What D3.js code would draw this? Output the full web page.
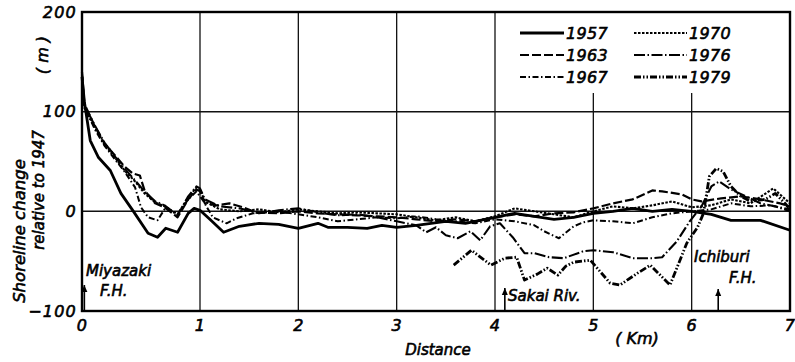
<!DOCTYPE html>
<html>
<head>
<meta charset="utf-8">
<script src="https://cdn.jsdelivr.net/npm/d3@7/dist/d3.min.js"></script>
<style>
body { margin: 0; background: #fff; }
text { font-family: "DejaVu Sans", sans-serif; font-style: oblique; fill: #000; stroke: #000; stroke-width: 0.6px; }
</style>
</head>
<body>
<div id="chart"></div>
<script>
// shoreline change relative to 1947, [distance km, change m]
var years = ["1957", "1963", "1967", "1970", "1976", "1979"];

var s1957 = [[0,135],[0.02,110],[0.07,71],[0.14,54],[0.24,41],[0.33,18],[0.43,1],[0.56,-22],[0.64,-26],[0.71,-17],
  [0.81,-21],[0.9,-2],[0.95,3],[1.0,1],[1.1,-8],[1.24,-21],[1.4,-15],[1.6,-12],[1.8,-13],[2.0,-17],[2.2,-12],
  [2.3,-16],[2.5,-16],[2.7,-17],[2.85,-14],[3.0,-16],[3.2,-14],[3.5,-10],[3.7,-12],[3.9,-8],[4.0,-6],[4.2,-2],
  [4.4,-5],[4.6,-8],[4.8,-6],[5.0,-2],[5.2,0],[5.4,3],[5.6,0],[5.8,2],[6.0,0],[6.2,-3],[6.4,-9],[6.7,-9],[7.0,-19]];

var s1963 = [[0,140],[0.02,108],[0.11,85],[0.19,68],[0.28,56],[0.36,45],[0.43,38],[0.49,36],[0.53,21],[0.62,8],
  [0.7,4],[0.81,-6],[0.9,12],[0.97,22],[1.0,20],[1.05,8],[1.17,6],[1.3,8],[1.44,4],[1.57,-1],[1.8,-2],[2.0,0],
  [2.2,-2],[2.4,-3],[2.6,-4],[2.8,-5],[3.0,-6],[3.2,-8],[3.4,-10],[3.6,-8],[3.8,-10],[4.0,-6],[4.2,-3],[4.4,-5],
  [4.6,-2],[4.8,-1],[5.0,3],[5.2,8],[5.4,12],[5.6,21],[5.7,20],[5.9,17],[6.0,12],[6.1,10],[6.3,13],[6.5,15],
  [6.7,12],[6.9,8],[7.0,5]];

var s1967 = [[0,138],[0.02,105],[0.11,82],[0.19,66],[0.28,52],[0.36,40],[0.45,24],[0.5,4],[0.56,-6],[0.64,-9],
  [0.71,4],[0.81,-3],[0.9,12],[0.97,20],[1.03,11],[1.13,-6],[1.27,-12],[1.37,-7],[1.54,-2],[1.8,0],[2.0,-3],
  [2.2,-6],[2.4,-10],[2.6,-8],[2.8,-6],[3.0,-7],[3.2,-5],[3.4,-8],[3.6,-10],[3.8,-12],[4.0,-8],[4.2,-10],
  [4.4,-14],[4.5,-20],[4.65,-27],[4.8,-15],[4.9,-11],[5.0,-9],[5.2,-10],[5.4,-12],[5.6,-6],[5.8,-2],[6.0,0],
  [6.2,2],[6.4,8],[6.6,5],[6.8,6],[7.0,2]];

var s1970 = [[0,132],[0.02,104],[0.11,84],[0.19,67],[0.28,54],[0.36,41],[0.45,30],[0.53,18],[0.62,9],[0.7,5],
  [0.81,-3],[0.9,14],[0.97,24],[1.0,22],[1.05,10],[1.2,2],[1.4,0],[1.6,2],[1.8,-1],[2.0,2],[2.2,0],[2.4,-2],
  [2.6,-1],[2.8,-2],[3.0,-3],[3.2,-6],[3.4,-9],[3.6,-6],[3.8,-10],[4.0,-5],[4.2,3],[4.4,0],[4.6,-3],[4.8,-6],
  [5.0,0],[5.2,5],[5.4,3],[5.6,6],[5.8,10],[6.0,4],[6.2,6],[6.4,12],[6.6,8],[6.83,23],[7.0,8]];

var s1976 = [[0,136],[0.02,106],[0.11,86],[0.19,69],[0.28,55],[0.36,43],[0.45,31],[0.53,20],[0.62,10],[0.7,6],
  [0.81,-4],[0.9,15],[0.97,25],[1.0,23],[1.05,12],[1.2,5],[1.4,3],[1.6,-2],[1.8,1],[2.0,3],[2.2,-1],[2.4,-4],
  [2.6,-3],[2.8,-6],[3.0,-10],[3.2,-14],[3.3,-21],[3.4,-16],[3.5,-24],[3.62,-27],[3.75,-20],[3.85,-29],
  [3.95,-15],[4.05,-12],[4.18,-26],[4.3,-42],[4.4,-42],[4.55,-46],[4.7,-47],[4.9,-40],[5.0,-39],[5.2,-41],
  [5.4,-47],[5.6,-47],[5.7,-46],[5.85,-30],[5.98,-10],[6.1,5],[6.2,25],[6.28,30],[6.4,22],[6.55,15],[6.7,8],
  [6.85,5],[7.0,0]];

var s1979 = [[3.58,-54],[3.76,-39],[3.96,-54],[4.1,-47],[4.22,-46],[4.3,-69],[4.43,-63],[4.53,-57],[4.64,-64],
  [4.72,-55],[4.8,-51],[4.97,-49],[5.17,-72],[5.27,-74],[5.45,-62],[5.58,-54],[5.78,-74],[5.95,-32],[6.06,-16],
  [6.12,-2],[6.18,35],[6.25,43],[6.32,40],[6.4,25],[6.5,15],[6.6,10],[6.75,12],[6.85,18],[6.95,8],[7.0,2]];

var xTicks = [0, 1, 2, 3, 4, 5, 6, 7];
var yTicks = [-100, 0, 100, 200];
var yGrid = [0, 100];

var series = [s1957, s1963, s1967, s1970, s1976, s1979];
var dashes = ["none", "9,3", "6,2.5,1.5,2.5", "2.5,1.5", "11,2.5,1.5,2.5", "7,2,1.5,2,1.5,2"];
var widths = [2.8, 2.2, 2, 2.1, 2.1, 2.8];

var W = 795, H = 362;
var plotL = 82, plotR = 790, plotT = 12, plotB = 311;

var svg = d3.select("#chart")
    .append("svg")
    .attr("width", W)
    .attr("height", H);

// first km is drawn wider than the others in the original figure
var xScale = d3.scaleLinear()
    .domain([0, 1, 7])
    .range([plotL, 200, plotR]);

var yScale = d3.scaleLinear()
    .domain([-100, 200])
    .range([plotB, plotT]);

// grid
svg.append("g")
    .selectAll("line")
    .data(xTicks.slice(1, -1))
    .enter()
    .append("line")
    .attr("x1", function(d) { return xScale(d); })
    .attr("x2", function(d) { return xScale(d); })
    .attr("y1", plotT)
    .attr("y2", plotB)
    .attr("stroke", "#111")
    .attr("stroke-width", 1.3);

svg.append("g")
    .selectAll("line")
    .data(yGrid)
    .enter()
    .append("line")
    .attr("x1", plotL)
    .attr("x2", plotR)
    .attr("y1", function(d) { return yScale(d); })
    .attr("y2", function(d) { return yScale(d); })
    .attr("stroke", "#111")
    .attr("stroke-width", 1.5);

// legend box hides the grid behind it
svg.append("rect")
    .attr("x", 500)
    .attr("y", plotT + 1)
    .attr("width", 284)
    .attr("height", 80)
    .attr("fill", "#fff");

var line = d3.line()
    .x(function(d) { return xScale(d[0]); })
    .y(function(d) { return yScale(d[1]); });

svg.append("g")
    .selectAll("path")
    .data(series)
    .enter()
    .append("path")
    .attr("d", function(d) { return line(d); })
    .attr("fill", "none")
    .attr("stroke", "#000")
    .attr("stroke-width", function(d, i) { return widths[i]; })
    .attr("stroke-dasharray", function(d, i) { return dashes[i]; })
    .attr("stroke-linejoin", "round");

// frame
svg.append("rect")
    .attr("x", plotL)
    .attr("y", plotT)
    .attr("width", plotR - plotL)
    .attr("height", plotB - plotT)
    .attr("fill", "none")
    .attr("stroke", "#000")
    .attr("stroke-width", 2.4);

// axes
var xAxis = svg.append("g")
    .attr("transform", "translate(0," + plotB + ")")
    .call(d3.axisBottom(xScale).tickValues(xTicks).tickFormat(d3.format("d")).tickSize(0).tickPadding(9));

var yAxis = svg.append("g")
    .attr("transform", "translate(" + plotL + ",0)")
    .call(d3.axisLeft(yScale).tickValues(yTicks).tickFormat(d3.format("d")).tickSize(0).tickPadding(5));

xAxis.select(".domain").remove();
yAxis.select(".domain").remove();
svg.selectAll(".tick text")
    .attr("font-family", "DejaVu Sans")
    .attr("font-size", 16)
    .style("letter-spacing", "1.2px")
    .attr("fill", "#000");

// legend
var legend = svg.append("g")
    .selectAll("g")
    .data(years)
    .enter()
    .append("g")
    .attr("transform", function(d, i) {
        var col = i < 3 ? 0 : 1, row = i % 3;
        return "translate(" + (col ? 634 : 520) + "," + [33, 55, 77][row] + ")";
    });

legend.append("line")
    .attr("x1", 0)
    .attr("x2", function(d, i) { return i < 3 ? 44 : 53; })
    .attr("y1", 0)
    .attr("y2", 0)
    .attr("stroke", "#000")
    .attr("stroke-width", function(d, i) { return widths[i]; })
    .attr("stroke-dasharray", function(d, i) { return dashes[i]; });

legend.append("text")
    .attr("x", function(d, i) { return i < 3 ? 46 : 55; })
    .attr("y", 6)
    .attr("font-size", 16)
    .style("letter-spacing", "0.3px")
    .text(function(d) { return d; });

// axis titles
svg.append("text")
    .attr("transform", "translate(25,231) rotate(-90)")
    .attr("text-anchor", "middle")
    .attr("font-size", 16.5)
    .text("Shoreline  change");

svg.append("text")
    .attr("transform", "translate(44,190) rotate(-90)")
    .attr("text-anchor", "middle")
    .attr("font-size", 15)
    .text("relative  to 1947");

svg.append("text")
    .attr("transform", "translate(48,55) rotate(-90)")
    .attr("text-anchor", "middle")
    .attr("font-size", 16)
    .text("( m )");

svg.append("text")
    .attr("x", 438)
    .attr("y", 355)
    .attr("text-anchor", "middle")
    .attr("font-size", 15)
    .text("Distance");

svg.append("text")
    .attr("x", 637)
    .attr("y", 344)
    .attr("text-anchor", "middle")
    .attr("font-size", 16)
    .text("( Km)");

// place annotations
function arrow(km, tipY) {
    var x = xScale(km);
    svg.append("line")
        .attr("x1", x).attr("x2", x)
        .attr("y1", plotB).attr("y2", tipY)
        .attr("stroke", "#000")
        .attr("stroke-width", 1.6);
    svg.append("path")
        .attr("d", "M" + (x - 3) + "," + (tipY + 7) + "L" + x + "," + tipY + "L" + (x + 3) + "," + (tipY + 7) + "Z")
        .attr("fill", "#000");
}

arrow(0.02, 285);
arrow(4.1, 288);
arrow(6.27, 289);

function note(px, py, s) {
    svg.append("text")
        .attr("x", px)
        .attr("y", py)
        .attr("font-size", 15)
        .text(s);
}

note(86, 276, "Miyazaki");
note(100, 296, "F.H.");
note(508, 301, "Sakai Riv.");
note(694, 262, "Ichiburi");
note(729, 283, "F.H.");
</script>
</body>
</html>
